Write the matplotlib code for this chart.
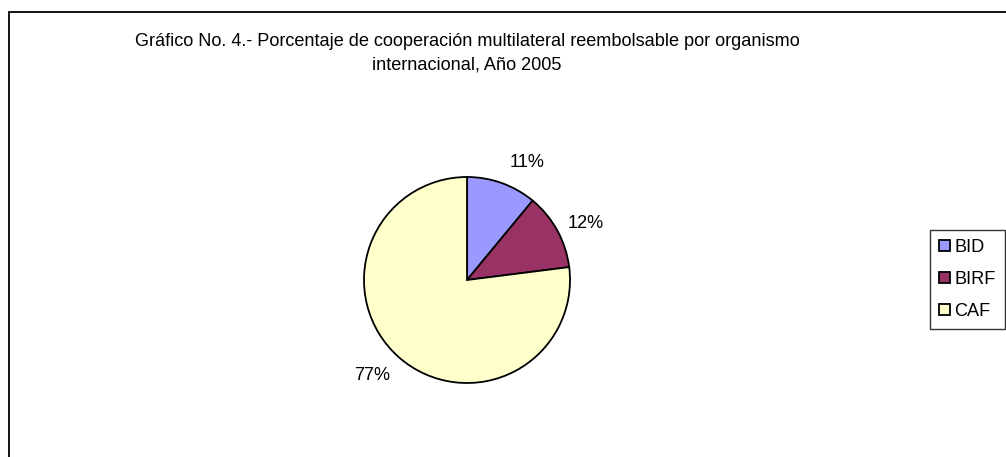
import numpy as np
import matplotlib.pyplot as plt
from matplotlib.patches import Rectangle

organismos = ["BID", "BIRF", "CAF"]
porcentajes = [11, 12, 77]
colores = ["#9999FF", "#993366", "#FFFFCC"]

W, H = 1006, 457
FS = 13.1
plt.rcParams['font.family'] = ['Liberation Sans', 'DejaVu Sans']

fig = plt.figure(figsize=(W / 100, H / 100), dpi=100)

# outer chart border (right and bottom run off the image)
fig.patches.append(Rectangle((9 / W, -0.05), 1.1, 1 - 12 / H + 0.05,
                             transform=fig.transFigure, fill=False,
                             edgecolor='black', linewidth=1.3))

fig.text(467 / W, 1 - 41 / H,
         "Gráfico No. 4.- Porcentaje de cooperación multilateral reembolsable por organismo",
         ha='center', va='center', fontsize=FS)
fig.text(467 / W, 1 - 65 / H, "internacional, Año 2005",
         ha='center', va='center', fontsize=FS)

cx, cy, r = 467, 280, 103
ax = fig.add_axes([(cx - r) / W, 1 - (cy + r) / H, 2 * r / W, 2 * r / H])
wedges, texts = ax.pie(porcentajes, colors=colores, startangle=90,
                       counterclock=False, radius=1,
                       labels=[f"{p}%" for p in porcentajes],
                       wedgeprops=dict(edgecolor='black', linewidth=1.3),
                       textprops=dict(fontsize=FS))
# Excel-like label placement: distance and small angular shift per label
for w, t, d, shift in zip(wedges, texts, [1.285, 1.277, 1.31],
                          [-7.2, -3.6, -3.3]):
    a = np.deg2rad((w.theta1 + w.theta2) / 2 + shift)
    t.set_position((d * np.cos(a), d * np.sin(a)))
    t.set_ha('center')
    t.set_va('center')
ax.set_xlim(-1, 1)
ax.set_ylim(-1, 1)
ax.set_aspect('auto')

leg = fig.legend(wedges, organismos, loc='upper left',
                 bbox_to_anchor=(930 / W, 1 - 230 / H),
                 frameon=True, fancybox=False, edgecolor='black',
                 fontsize=FS, handlelength=0.6, handleheight=0.6,
                 handletextpad=0.25, borderpad=0.5, labelspacing=0.82,
                 borderaxespad=0)
leg.get_frame().set_linewidth(1.0)

fig.savefig("out.png", dpi=100)
